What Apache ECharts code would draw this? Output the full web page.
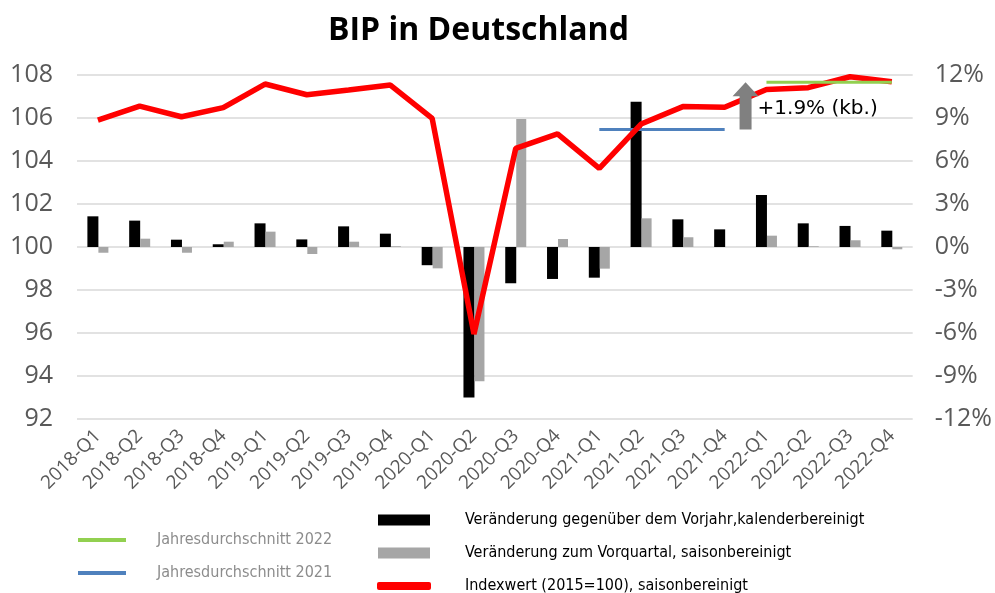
<!DOCTYPE html>
<html>
<head>
<meta charset="utf-8">
<script src="https://cdn.jsdelivr.net/npm/echarts@6/dist/echarts.min.js"></script>
<style>
  html, body { margin: 0; padding: 0; background: #fff; }
  #chart { width: 995px; height: 593px; }
</style>
</head>
<body>
<div id="chart"></div>
<script>
// quarters
var quarters = ['2018-Q1', '2018-Q2', '2018-Q3', '2018-Q4', '2019-Q1', '2019-Q2', '2019-Q3', '2019-Q4',
  '2020-Q1', '2020-Q2', '2020-Q3', '2020-Q4', '2021-Q1', '2021-Q2', '2021-Q3', '2021-Q4',
  '2022-Q1', '2022-Q2', '2022-Q3', '2022-Q4']

// Indexwert (2015=100), saisonbereinigt
var indexValues = [105.9, 106.55, 106.06, 106.48, 107.58, 107.08, 107.3, 107.53,
  105.98, 95.95, 104.59, 105.26, 103.66, 105.72, 106.53, 106.5,
  107.33, 107.41, 107.92, 107.69]

// Veränderung gegenüber dem Vorjahr (%)
var yoyChange = [2.14, 1.84, 0.51, 0.19, 1.65, 0.53, 1.44, 0.93,
  -1.27, -10.5, -2.53, -2.23, -2.14, 10.14, 1.93, 1.23,
  3.63, 1.65, 1.47, 1.14]

// Veränderung zum Vorquartal (%)
var qoqChange = [-0.4, 0.58, -0.4, 0.37, 1.07, -0.49, 0.37, 0.05,
  -1.49, -9.37, 8.93, 0.56, -1.51, 2.0, 0.68, 0.0,
  0.79, 0.05, 0.47, -0.16]

// Jahresdurchschnitte (Index)
var avgYears = ['2021', '2022']
var avgValues = [105.46, 107.66]
var arrowLabel = '+1.9% (kb.)'

var leftTicks = { min: 92, max: 108, interval: 2 }
var rightTicks = { min: -12, max: 12, interval: 3 }

function yearLine(year, value) {
  return quarters.map(function (q) {
    return q.indexOf(year) === 0 ? value : null
  })
}

var chart = echarts.init(document.getElementById('chart'))

var legendText = { fontFamily: '"DejaVu Sans Condensed", "Liberation Sans Narrow", Roboto', fontSize: 16 }

chart.setOption({
  animation: false,
  textStyle: { fontFamily: 'Open Sans' },
  title: {
    text: 'BIP in Deutschland',
    left: 323,
    top: 10,
    textStyle: { fontSize: 32, fontWeight: 'bold', color: '#000', fontFamily: 'Open Sans' }
  },
  grid: { left: 77, right: 82, top: 75, bottom: 174 },
  legend: [
    {
      orient: 'vertical',
      left: 73,
      top: 527,
      itemGap: 17,
      itemWidth: 48,
      itemHeight: 4,
      icon: 'rect',
      data: ['Jahresdurchschnitt 2022', 'Jahresdurchschnitt 2021'],
      textStyle: Object.assign({ color: '#8c8c8c', padding: [0, 0, 0, 26] }, legendText)
    },
    {
      orient: 'vertical',
      left: 373,
      top: 507,
      itemGap: 17,
      itemWidth: 52,
      itemHeight: 11,
      icon: 'rect',
      data: ['Veränderung gegenüber dem Vorjahr,kalenderbereinigt', 'Veränderung zum Vorquartal, saisonbereinigt'],
      textStyle: Object.assign({ color: '#000', padding: [0, 0, 0, 30] }, legendText)
    },
    {
      orient: 'vertical',
      left: 372,
      top: 573,
      itemWidth: 54,
      itemHeight: 8,
      icon: 'roundRect',
      data: ['Indexwert (2015=100), saisonbereinigt'],
      textStyle: Object.assign({ color: '#000', padding: [0, 0, 0, 29] }, legendText)
    }
  ],
  xAxis: {
    type: 'category',
    data: quarters,
    axisLine: { show: false },
    axisTick: { show: false },
    axisLabel: { rotate: 45, fontSize: 19, color: '#595959', margin: 14, interval: 0, fontFamily: 'Open Sans' }
  },
  yAxis: [
    {
      type: 'value',
      min: leftTicks.min,
      max: leftTicks.max,
      interval: leftTicks.interval,
      axisLabel: { fontSize: 25, color: '#595959', margin: 24, fontFamily: 'Open Sans' },
      splitLine: { lineStyle: { color: '#d9d9d9', width: 1.5 } }
    },
    {
      type: 'value',
      min: rightTicks.min,
      max: rightTicks.max,
      interval: rightTicks.interval,
      axisLabel: { fontSize: 25, color: '#595959', margin: 22, formatter: '{value}%', fontFamily: 'Open Sans' },
      splitLine: { show: false }
    }
  ],
  series: [
    {
      name: 'Veränderung gegenüber dem Vorjahr,kalenderbereinigt',
      type: 'bar',
      yAxisIndex: 1,
      data: yoyChange,
      barWidth: 11,
      barGap: '0%',
      itemStyle: { color: '#000' }
    },
    {
      name: 'Veränderung zum Vorquartal, saisonbereinigt',
      type: 'bar',
      yAxisIndex: 1,
      data: qoqChange,
      barWidth: 10,
      itemStyle: { color: '#a6a6a6' }
    },
    {
      name: 'Jahresdurchschnitt 2021',
      type: 'line',
      data: yearLine(avgYears[0], avgValues[0]),
      symbol: 'none',
      lineStyle: { color: '#4f81bd', width: 3 },
      itemStyle: { color: '#4f81bd' },
      z: 3
    },
    {
      name: 'Indexwert (2015=100), saisonbereinigt',
      type: 'line',
      data: indexValues,
      symbol: 'none',
      lineStyle: { color: '#ff0000', width: 5.5 },
      itemStyle: { color: '#ff0000' },
      z: 4
    },
    {
      name: 'Jahresdurchschnitt 2022',
      type: 'line',
      data: yearLine(avgYears[1], avgValues[1]),
      symbol: 'none',
      lineStyle: { color: '#92d050', width: 3 },
      itemStyle: { color: '#92d050' },
      z: 5
    }
  ]
})

// Pfeil zwischen 2021-Q4 und 2022-Q1
var p0 = chart.convertToPixel({ xAxisIndex: 0, yAxisIndex: 0 }, [15, avgValues[0]])
var p1 = chart.convertToPixel({ xAxisIndex: 0, yAxisIndex: 0 }, [16, avgValues[1]])
var ax = (p0[0] + p1[0]) / 2
var headH = 14
chart.setOption({
  graphic: [
    {
      type: 'polygon',
      z: 10,
      shape: {
        points: [
          [ax - 6, p0[1]], [ax + 6, p0[1]], [ax + 6, p1[1] + headH],
          [ax + 13, p1[1] + headH], [ax, p1[1]], [ax - 13, p1[1] + headH],
          [ax - 6, p1[1] + headH]
        ]
      },
      style: { fill: '#808080' }
    },
    {
      type: 'text',
      z: 10,
      x: ax + 12,
      y: (p0[1] + p1[1]) / 2 + 3,
      style: { text: arrowLabel, fontSize: 20, fill: '#000', verticalAlign: 'middle', fontFamily: 'DejaVu Sans' }
    }
  ]
})
</script>
</body>
</html>
